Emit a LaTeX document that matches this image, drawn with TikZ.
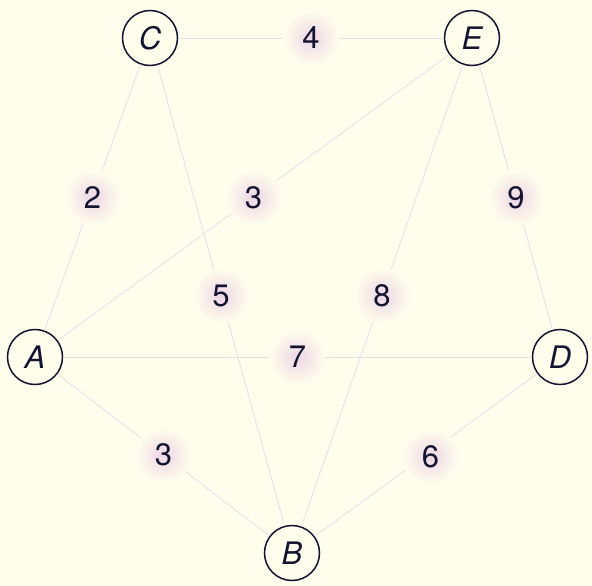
\documentclass[tikz,border=0pt]{standalone}
\usepackage{fontspec}
\setmainfont{TeX Gyre Heros}
\definecolor{bg}{RGB}{255,254,236}
\definecolor{ink}{RGB}{20,20,48}
\definecolor{edgec}{RGB}{234,220,230}
\definecolor{blob}{RGB}{236,214,230}
\begin{document}
\begin{tikzpicture}[x=1pt,y=-1pt,
  vert/.style={circle,draw=ink,line width=1.5pt,minimum size=55pt,inner sep=0pt,
    text=ink,font=\fontsize{31}{31}\selectfont\itshape},
  wt/.style={circle,minimum size=56pt,inner sep=0pt,text=ink,
    font=\fontsize{31}{31}\selectfont,shading=radial,inner color=blob,outer color=bg},
  edge/.style={draw=edgec,line width=0.8pt}]
\fill[bg] (0,0) rectangle (592,586);
\useasboundingbox (0,0) rectangle (592,586);
\node[vert] (C) at (150,38) {C};
\node[vert] (E) at (472,38) {E};
\node[vert] (A) at (35,357) {A};
\node[vert] (D) at (560,357) {D};
\node[vert] (B) at (292,553) {B};
\draw[edge] (C) -- node[wt] (w4) {4} (E);
\draw[edge] (C) -- node[wt] (w2) {2} (A);
\draw[edge] (E) -- node[wt] (w3a) {3} (A);
\draw[edge] (E) -- node[wt] (w9) {9} (D);
\draw[edge] (E) -- node[wt] (w8) {8} (B);
\draw[edge] (C) -- node[wt] (w5) {5} (B);
\draw[edge] (A) -- node[wt] (w7) {7} (D);
\draw[edge] (A) -- node[wt] (w3b) {3} (B);
\draw[edge] (D) -- node[wt,pos=0.48,yshift=-5pt] (w6) {6} (B);
\end{tikzpicture}
\end{document}
